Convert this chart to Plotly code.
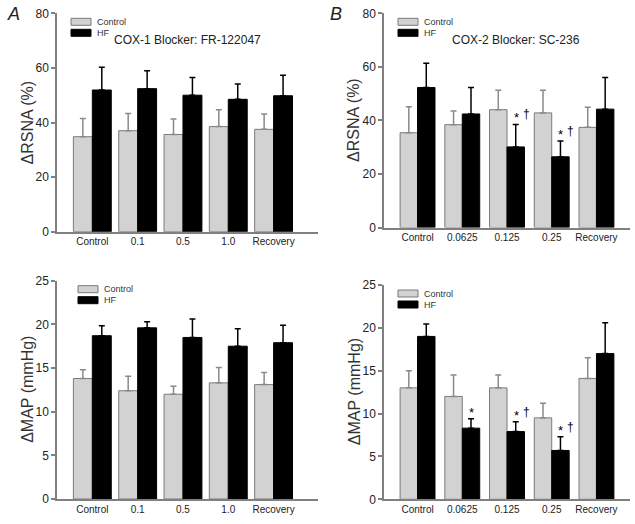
import plotly.graph_objects as go

# ---------------- data ----------------
cats_a = ["Control", "0.1", "0.5", "1.0", "Recovery"]
cats_b = ["Control", "0.0625", "0.125", "0.25", "Recovery"]

rsna_a_ctrl = [34.8, 37.0, 35.6, 38.5, 37.5]
rsna_a_ctrl_err = [6.7, 6.3, 5.7, 6.2, 5.6]
rsna_a_hf = [51.9, 52.4, 50.0, 48.5, 49.8]
rsna_a_hf_err = [8.3, 6.6, 6.5, 5.6, 7.5]

rsna_b_ctrl = [35.4, 38.4, 44.0, 42.8, 37.4]
rsna_b_ctrl_err = [9.7, 5.1, 7.3, 8.5, 7.5]
rsna_b_hf = [52.3, 42.4, 30.1, 26.4, 44.2]
rsna_b_hf_err = [9.0, 9.9, 8.4, 5.9, 11.8]

map_a_ctrl = [13.8, 12.4, 12.0, 13.3, 13.1]
map_a_ctrl_err = [1.0, 1.65, 0.9, 1.75, 1.4]
map_a_hf = [18.7, 19.6, 18.5, 17.5, 17.9]
map_a_hf_err = [1.15, 0.7, 2.1, 2.0, 2.0]

map_b_ctrl = [13.0, 12.0, 13.0, 9.5, 14.1]
map_b_ctrl_err = [2.0, 2.5, 1.5, 1.7, 2.4]
map_b_hf = [19.0, 8.3, 7.9, 5.7, 17.0]
map_b_hf_err = [1.45, 1.1, 1.15, 1.6, 3.6]

rsna_ticks = [0, 20, 40, 60, 80]
map_ticks = [0, 5, 10, 15, 20, 25]

# significance marks (panel B): (category, marks)
sig_rsna_b = [("0.125", "* †"), ("0.25", "* †")]
sig_map_b = [("0.0625", "*"), ("0.125", "* †"), ("0.25", "* †")]

# ---------------- style ----------------
W, H = 635, 524
FONT = "Liberation Sans, Arial, sans-serif"
CTRL_FILL = "#d2d2d2"
CTRL_LINE = "#7a7a7a"
HF_FILL = "#000000"
AXIS_COL = "#808080"
TXT = "#222222"


def px_x(p):
    return p / W


def px_y(p):
    return 1 - p / H


panels = [
    ("x", "y", cats_a, rsna_a_ctrl, rsna_a_ctrl_err, rsna_a_hf, rsna_a_hf_err,
     (57, 318), (231.7, 13.3), [0, 80], rsna_ticks, "ΔRSNA (%)", [-0.78, 4.98], 0.418, 27),
    ("x2", "y2", cats_b, rsna_b_ctrl, rsna_b_ctrl_err, rsna_b_hf, rsna_b_hf_err,
     (384, 630), (227.5, 13.3), [0, 80], rsna_ticks, "ΔRSNA (%)", [-0.75, 4.75], 0.39, 353.5),
    ("x3", "y3", cats_a, map_a_ctrl, map_a_ctrl_err, map_a_hf, map_a_hf_err,
     (57, 318), (499, 280.7), [0, 25], map_ticks, "ΔMAP (mmHg)", [-0.78, 4.98], 0.418, 28),
    ("x4", "y4", cats_b, map_b_ctrl, map_b_ctrl_err, map_b_hf, map_b_hf_err,
     (384, 630), (499.3, 285), [0, 25], map_ticks, "ΔMAP (mmHg)", [-0.75, 4.75], 0.39, 354),
]

fig = go.Figure()
layout = dict(
    width=W, height=H, margin=dict(l=0, r=0, t=0, b=0, autoexpand=False),
    paper_bgcolor="white", plot_bgcolor="white",
    barmode="overlay", showlegend=False,
    font=dict(family=FONT, color=TXT),
)
annotations = []
shapes = []

for i, (xa, ya, cats, c, ce, h, he, xd, yd, yr, ticks, ytitle, xr, w, tx) in enumerate(panels):
    fig.add_trace(go.Bar(
        x=cats, y=c, name="Control", xaxis=xa, yaxis=ya,
        width=w, offset=-w,
        marker=dict(color=CTRL_FILL, line=dict(color=CTRL_LINE, width=1)),
        error_y=dict(type="data", array=ce, arrayminus=[0] * len(ce), symmetric=False,
                     color="#8a8a8a", thickness=1.5, width=3),
    ))
    fig.add_trace(go.Bar(
        x=cats, y=h, name="HF", xaxis=xa, yaxis=ya,
        width=w, offset=0,
        marker=dict(color=HF_FILL, line=dict(color="#000000", width=1)),
        error_y=dict(type="data", array=he, arrayminus=[0] * len(he), symmetric=False,
                     color="#000000", thickness=1.5, width=3),
    ))
    xkey = "xaxis" + xa[1:]
    ykey = "yaxis" + ya[1:]
    layout[xkey] = dict(
        domain=[px_x(xd[0]), px_x(xd[1])], anchor=ya, type="category",
        range=xr, showline=True, linecolor=AXIS_COL, linewidth=1.5,
        ticks="", showgrid=False, zeroline=False, automargin=False,
        tickfont=dict(size=10, color=TXT, family=FONT), ticklen=0,
    )
    layout[ykey] = dict(
        domain=[px_y(yd[0]), px_y(yd[1])], anchor=xa, range=yr,
        tickvals=ticks, showline=True, linecolor=AXIS_COL, linewidth=1.5,
        ticks="outside", ticklen=4, tickcolor=AXIS_COL, tickwidth=1.5,
        showgrid=False, zeroline=False, automargin=False, ticklabeloverflow="allow",
        tickfont=dict(size=12, color=TXT, family=FONT),
    )
    # y-axis title, placed precisely beside the axis
    annotations.append(dict(xref="paper", yref="paper", x=px_x(tx),
                            y=(px_y(yd[0]) + px_y(yd[1])) / 2,
                            text=ytitle, textangle=-90, showarrow=False,
                            xanchor="center", yanchor="middle",
                            font=dict(size=16, color="#333333", family=FONT)))

    # legend boxes (drawn as shapes + labels)
    lx0 = xd[0] + (21 if i == 2 else 14)
    ly0 = yd[1] + 5
    for k, (lab, fill, line) in enumerate([("Control", CTRL_FILL, CTRL_LINE), ("HF", HF_FILL, "#000000")]):
        y0 = ly0 + k * 11
        shapes.append(dict(type="rect", xref="paper", yref="paper",
                           x0=px_x(lx0), x1=px_x(lx0 + 20), y0=px_y(y0), y1=px_y(y0 + 7),
                           fillcolor=fill, line=dict(color=line, width=1)))
        annotations.append(dict(xref="paper", yref="paper", x=px_x(lx0 + 24), y=px_y(y0 + 3.5),
                                text=lab, showarrow=False, xanchor="left", yanchor="middle",
                                font=dict(size=9, color="#333333", family=FONT)))

# panel titles
annotations.append(dict(xref="paper", yref="paper", x=px_x(187), y=px_y(40),
                        text="COX-1 Blocker: FR-122047", showarrow=False,
                        xanchor="center", yanchor="middle",
                        font=dict(size=12, color=TXT, family=FONT)))
annotations.append(dict(xref="paper", yref="paper", x=px_x(516), y=px_y(40),
                        text="COX-2 Blocker: SC-236", showarrow=False,
                        xanchor="center", yanchor="middle",
                        font=dict(size=12, color=TXT, family=FONT)))
# panel letters
annotations.append(dict(xref="paper", yref="paper", x=px_x(13), y=px_y(14),
                        text="<i>A</i>", showarrow=False, xanchor="center", yanchor="middle",
                        font=dict(size=18, color=TXT, family=FONT)))
annotations.append(dict(xref="paper", yref="paper", x=px_x(336), y=px_y(14),
                        text="<i>B</i>", showarrow=False, xanchor="center", yanchor="middle",
                        font=dict(size=18, color=TXT, family=FONT)))

# significance marks (x given as category index to avoid numeric parsing of labels)
for (xa, ya, cats, hf, hfe, sigs) in [("x2", "y2", cats_b, rsna_b_hf, rsna_b_hf_err, sig_rsna_b),
                                      ("x4", "y4", cats_b, map_b_hf, map_b_hf_err, sig_map_b)]:
    for cat, marks in sigs:
        j = cats.index(cat)
        top = hf[j] + hfe[j]
        parts = marks.split()
        annotations.append(dict(xref=xa, yref=ya, x=j, y=top, text=parts[0],
                                showarrow=False, xshift=9, yshift=-3, yanchor="bottom",
                                font=dict(size=13, color="#000000", family=FONT)))
        if len(parts) > 1:
            annotations.append(dict(xref=xa, yref=ya, x=j, y=top, text=parts[1],
                                    showarrow=False, xshift=19, yshift=1, yanchor="bottom",
                                    font=dict(size=12, color="#000000", family=FONT)))

layout["annotations"] = annotations
layout["shapes"] = shapes
fig.update_layout(**layout)

# remove the default page margin so the figure sits at the window's top-left corner
fig.write_html("out.html",
               config={"displayModeBar": False},
               post_script="document.body.style.margin='0';document.body.style.overflow='hidden';")
